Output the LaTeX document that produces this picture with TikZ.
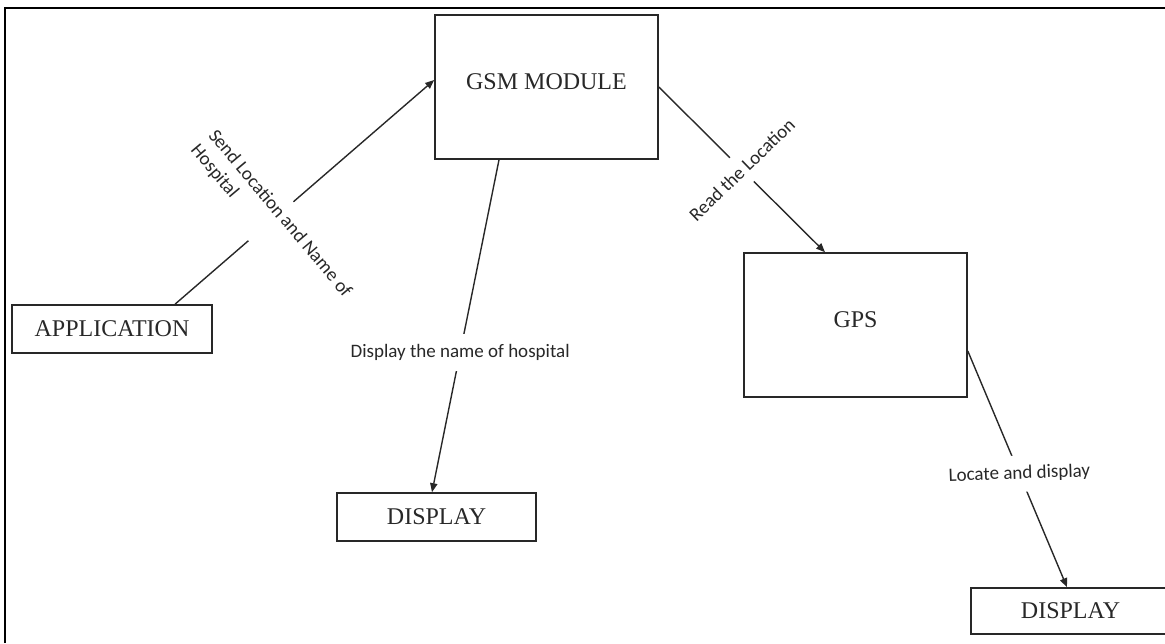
\documentclass[tikz,border=0pt]{standalone}
\usepackage{fontspec}
\setmainfont{Liberation Serif}
\newfontfamily\lblfont{Carlito}
\usepackage{xcolor}
\definecolor{inkgray}{RGB}{40,40,40}
\usepackage{tikz}
\usetikzlibrary{arrows.meta}

\begin{document}
\begin{tikzpicture}[x=0.5pt, y=-0.5pt,
  blk/.style={draw=inkgray, line width=0.8pt, text=inkgray,
              font=\fontsize{12}{14}\selectfont},
  bigblk/.style={blk, minimum width=111.5pt, minimum height=72pt,
                 text height=8pt, text depth=6pt},
  flow/.style={draw=inkgray, line width=0.7pt,
               -{Triangle[length=4.5pt,width=3.6pt]}},
  lbl/.style={fill=white, inner sep=5pt, text=inkgray,
              font=\lblfont\fontsize{9.5}{11.5}\selectfont}]
\useasboundingbox (0,0) rectangle (1165,643);
\draw[line width=1.1pt] (5,643) -- (5,8) -- (1165,8);

% blocks
\node[blk, minimum width=100pt, minimum height=24pt] (app) at (112,329) {APPLICATION};
\node[bigblk] (gsm) at (546.5,87) {GSM MODULE};
\node[bigblk] (gps) at (855.5,325) {GPS};
\node[blk, minimum width=99.5pt, minimum height=24pt] (dispa) at (436.5,517) {DISPLAY};
\node[blk, minimum width=99.5pt, minimum height=23pt] (dispb) at (1070.5,611) {DISPLAY};

% connectors
\draw[flow] ([xshift=31.5pt]app.north) --
  node[lbl, pos=0.37, rotate=-50, align=left] (send) {Send Location and Name of\\Hospital}
  ([yshift=3.5pt]gsm.west);
\draw[flow] ([xshift=-23.75pt]gsm.south) --
  node[lbl, pos=0.58] (shown) {Display the name of hospital}
  ([xshift=-2.25pt]dispa.north);
\draw[flow] (gsm.east) --
  node[lbl, pos=0.5, rotate=44] (read) {Read the Location}
  ([xshift=-15.25pt]gps.north);
\draw[flow] ([yshift=-13pt]gps.east) --
  node[lbl, pos=0.52, rotate=2] (locate) {Locate and display}
  ([xshift=-1.75pt]dispb.north);
\end{tikzpicture}
\end{document}
